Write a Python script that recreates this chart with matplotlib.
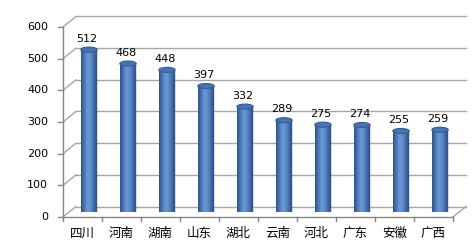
import matplotlib.pyplot as plt
import numpy as np
from matplotlib.path import Path
from matplotlib.patches import PathPatch, Ellipse
from matplotlib.colors import LinearSegmentedColormap

provinces = ['四川', '河南', '湖南', '山东', '湖北', '云南', '河北', '广东', '安徽', '广西']
counts = [512, 468, 448, 397, 332, 289, 275, 274, 255, 259]
yticks = [0, 100, 200, 300, 400, 500, 600]

W, H, DPI = 475, 242, 100
fig = plt.figure(figsize=(W / DPI, H / DPI), dpi=DPI)

# front plane in pixels
x0, x1 = 63, 453
y_bot, y_top = 217, 27
DX, DY = 13, 10.5   # depth offset (pixels)


def make_axes(dx, dy, z):
    ax = fig.add_axes([(x0 + dx) / W, (H - y_bot + dy) / H,
                       (x1 - x0) / W, (y_bot - y_top) / H], zorder=z)
    ax.set_xlim(0, len(provinces))
    ax.set_ylim(0, 600)
    ax.axis('off')
    ax.patch.set_alpha(0)
    return ax


ax_back = make_axes(DX, DY, 1)
ax_mid = make_axes(DX / 2, DY / 2, 2)
ax = make_axes(0, 0, 3)

grid = '#a6a6a6'
n = len(provinces)

# back wall gridlines and floor/side diagonals
for t in yticks:
    ax_back.plot([0, n], [t, t], color=grid, lw=1, clip_on=False)
# diagonals drawn in figure pixel coords
def pix(x, y):
    return x / W, (H - y) / H
for t in yticks:
    yf = y_bot - t / 600 * (y_bot - y_top)
    fig.add_artist(plt.Line2D(*zip(pix(x0, yf), pix(x0 + DX, yf - DY)), color=grid, lw=1))
fig.add_artist(plt.Line2D(*zip(pix(x1, y_bot), pix(x1 + DX, y_bot - DY)), color=grid, lw=1))

# front axes lines
ax.plot([0, 0], [0, 600], color='#868686', lw=1, clip_on=False)
ax.plot([0, n], [0, 0], color='#868686', lw=1, clip_on=False)
for t in yticks:
    ax.plot([-0.12, 0], [t, t], color='#868686', lw=1, clip_on=False)
    ax.text(-0.38, t, str(t), ha='right', va='center', fontsize=8, color='black')
for i in range(n + 1):
    ax.plot([i, i], [0, -14], color='#868686', lw=1, clip_on=False)
for i, p in enumerate(provinces):
    ax.text(i + 0.5, -52, p, ha='center', va='center', fontsize=9,
            family=['Noto Sans CJK SC', 'DejaVu Sans'])

# cylinders
cmap = LinearSegmentedColormap.from_list('cyl', ['#2f5286', '#4a78b8', '#6d9ad6', '#5a89c9', '#3e67a3', '#27467a'])
grad = np.linspace(0, 1, 64).reshape(1, -1)
bw = 0.42
eh = 16
for i, v in enumerate(counts):
    cx = i + 0.5
    th = np.linspace(np.pi, 2 * np.pi, 40)
    arc = np.column_stack([cx + bw / 2 * np.cos(th), eh / 2 * np.sin(th)])
    verts = np.vstack([[cx - bw / 2, v], arc, [cx + bw / 2, v], [cx - bw / 2, v]])
    body = PathPatch(Path(verts), facecolor='none', edgecolor='none')
    ax_mid.add_patch(body)
    body.set_clip_on(False)
    im = ax_mid.imshow(grad, cmap=cmap, aspect='auto',
                       extent=[cx - bw / 2, cx + bw / 2, -eh / 2, v], zorder=2)
    im.set_clip_path(body)
    ax_mid.add_patch(Ellipse((cx, v), bw, eh, facecolor='#4774b3',
                             edgecolor='#365d96', lw=0.8, zorder=3, clip_on=False))
    ax_mid.annotate(str(v), (cx, v), xytext=(-2, 11), textcoords='offset pixels',
                    ha='center', va='center', fontsize=8, color='black',
                    annotation_clip=False)

fig.savefig('out.png', dpi=DPI)
